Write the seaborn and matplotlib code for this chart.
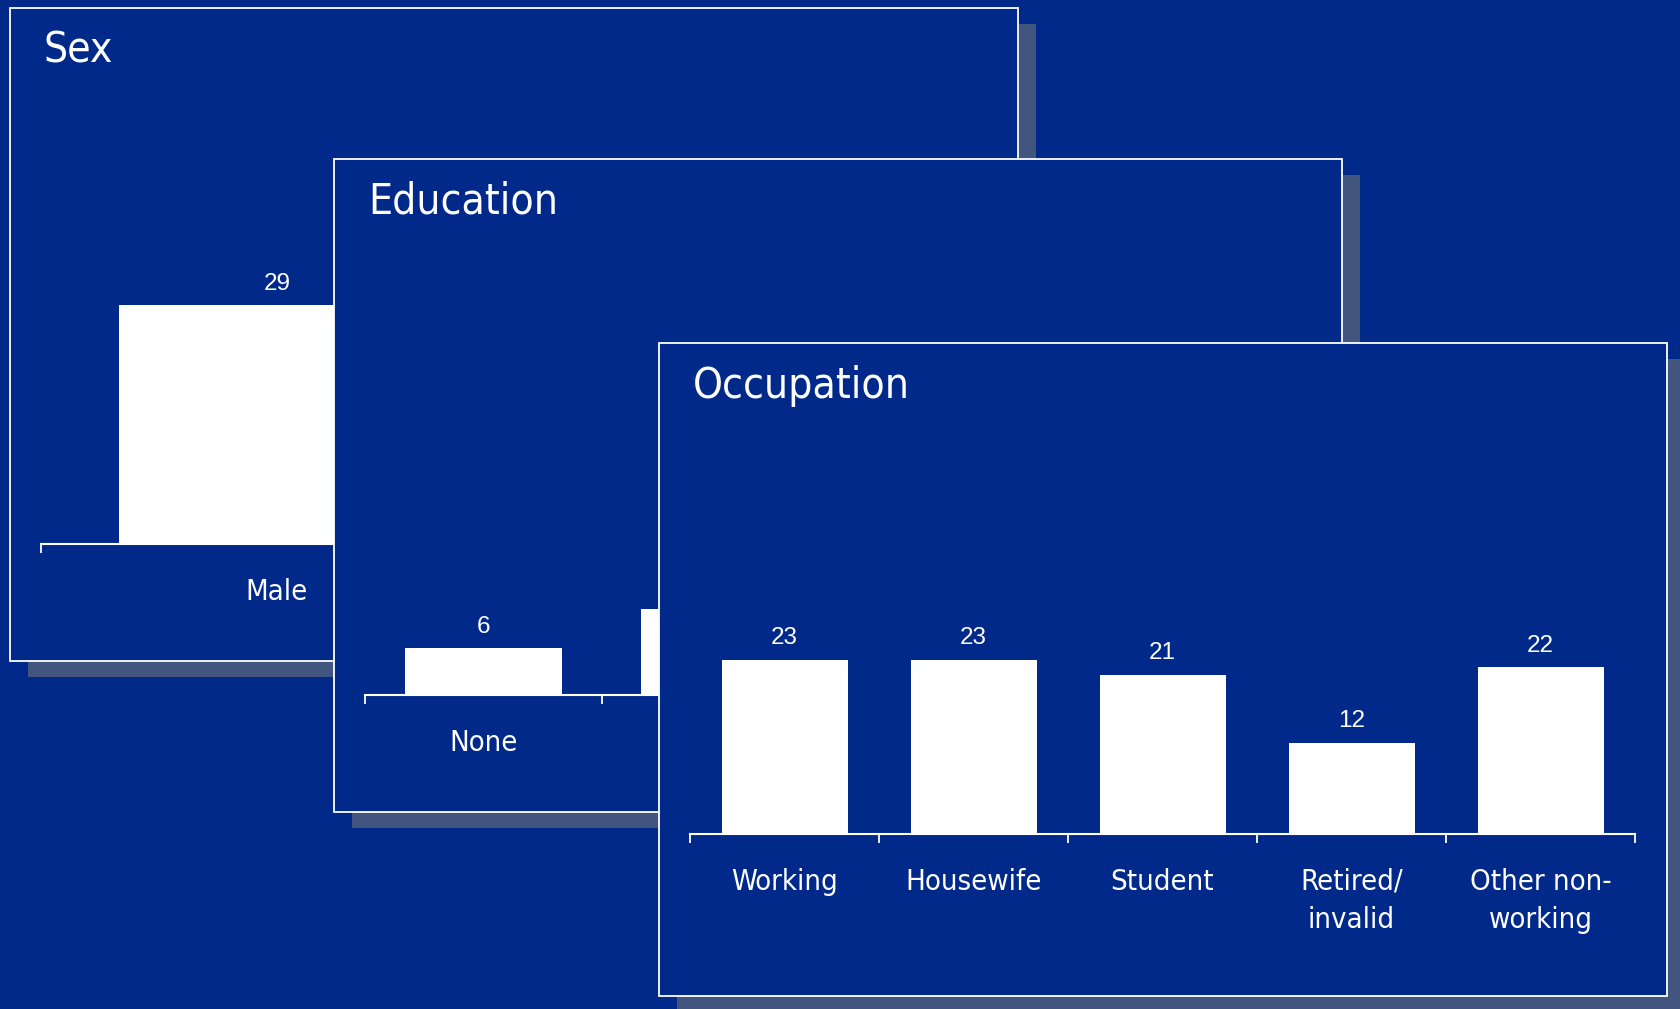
import matplotlib
matplotlib.use("Agg")
import matplotlib.pyplot as plt
from matplotlib.patches import Rectangle
import numpy as np
import pandas as pd
import seaborn as sns

# Survey breakdowns shown on the three stacked cards
sex_categories = ["Male"]
sex_values = [29]
education_categories = ["None", "Primary"]
education_values = [6, 11]
occupation_categories = ["Working", "Housewife", "Student", "Retired/\ninvalid", "Other non-\nworking"]
occupation_values = [23, 23, 21, 12, 22]
panel_titles = ["Sex", "Education", "Occupation"]

BG = "#00298A"
SHADOW = "#42557F"
FG = "white"

W, H = 1680, 1009
sns.set_theme(style="white")
plt.rcParams["font.family"] = ["DejaVu Sans"]
plt.rcParams["font.stretch"] = "condensed"

fig = plt.figure(figsize=(W / 100, H / 100), dpi=100, facecolor=BG)

# card layout in pixels (from top-left of the figure)
card_w, card_h = 1008, 653
card_origin = [(9.6, 7.5), (334.3, 158.6), (659, 343)]
baseline_off = [536.8, 536.7, 490.6]
axes_h = [437, 437, 416]
n_slots = [2, 4, 5]
y_max = [53, 56, 55]
axis_left_off = 31
axis_len = 945
shadow_dx, shadow_dy = 18, 16

panels = [
    (sex_categories, sex_values),
    (education_categories, education_values),
    (occupation_categories, occupation_values),
]

for i, ((cats, vals), title) in enumerate(zip(panels, panel_titles)):
    cx, cy = card_origin[i]
    left = cx + axis_left_off
    base = cy + baseline_off[i]
    ax = fig.add_axes([left / W, 1 - base / H, axis_len / W, axes_h[i] / H])
    ax.patch.set_visible(False)

    shadow = Rectangle(((cx + shadow_dx) / W, 1 - (cy + shadow_dy + card_h) / H),
                       card_w / W, card_h / H, transform=fig.transFigure,
                       facecolor=SHADOW, edgecolor="none", clip_on=False, zorder=0.1)
    card = Rectangle((cx / W, 1 - (cy + card_h) / H), card_w / W, card_h / H,
                     transform=fig.transFigure, facecolor=BG, edgecolor=FG,
                     linewidth=1.3, clip_on=False, zorder=0.2)
    ax.add_patch(shadow)
    ax.add_patch(card)

    df = pd.DataFrame({"category": cats, "value": vals})
    sns.barplot(data=df, x="category", y="value", color=FG, saturation=1,
                width=2 / 3, linewidth=0, ax=ax, zorder=1)

    ax.set_xlim(-0.5, n_slots[i] - 0.5)
    ax.set_ylim(0, y_max[i])

    for x, v in enumerate(vals):
        ax.annotate(f"{v}", (x, v), xytext=(0, 15.5), textcoords="offset points",
                    ha="center", va="center", color=FG, fontsize=17.5,
                    family="Liberation Sans", fontstretch="normal",
                    annotation_clip=False)

    for s in ["left", "top", "right"]:
        ax.spines[s].set_visible(False)
    ax.spines["bottom"].set_color(FG)
    ax.spines["bottom"].set_linewidth(1.5)
    ax.set_xticks(range(len(cats)))
    ax.set_xticklabels(cats)
    ax.set_xticks(np.arange(-0.5, n_slots[i]), minor=True)
    ax.tick_params(axis="x", which="major", length=0, pad=24.5, labelsize=21,
                   labelcolor=FG, bottom=True)
    ax.tick_params(axis="x", which="minor", length=6.2, width=1.3, color=FG,
                   direction="out", bottom=True)
    ax.set_yticks([])
    ax.set_xlabel("")
    ax.set_ylabel("")
    for lab in ax.get_xticklabels():
        lab.set_linespacing(1.45)

    ax.text((cx + 34) / W, 1 - (cy + 42.8) / H, title, transform=fig.transFigure,
            fontsize=30.5, color=FG, ha="left", va="center", zorder=3)

fig.savefig("out.png", dpi=100, facecolor=BG)
